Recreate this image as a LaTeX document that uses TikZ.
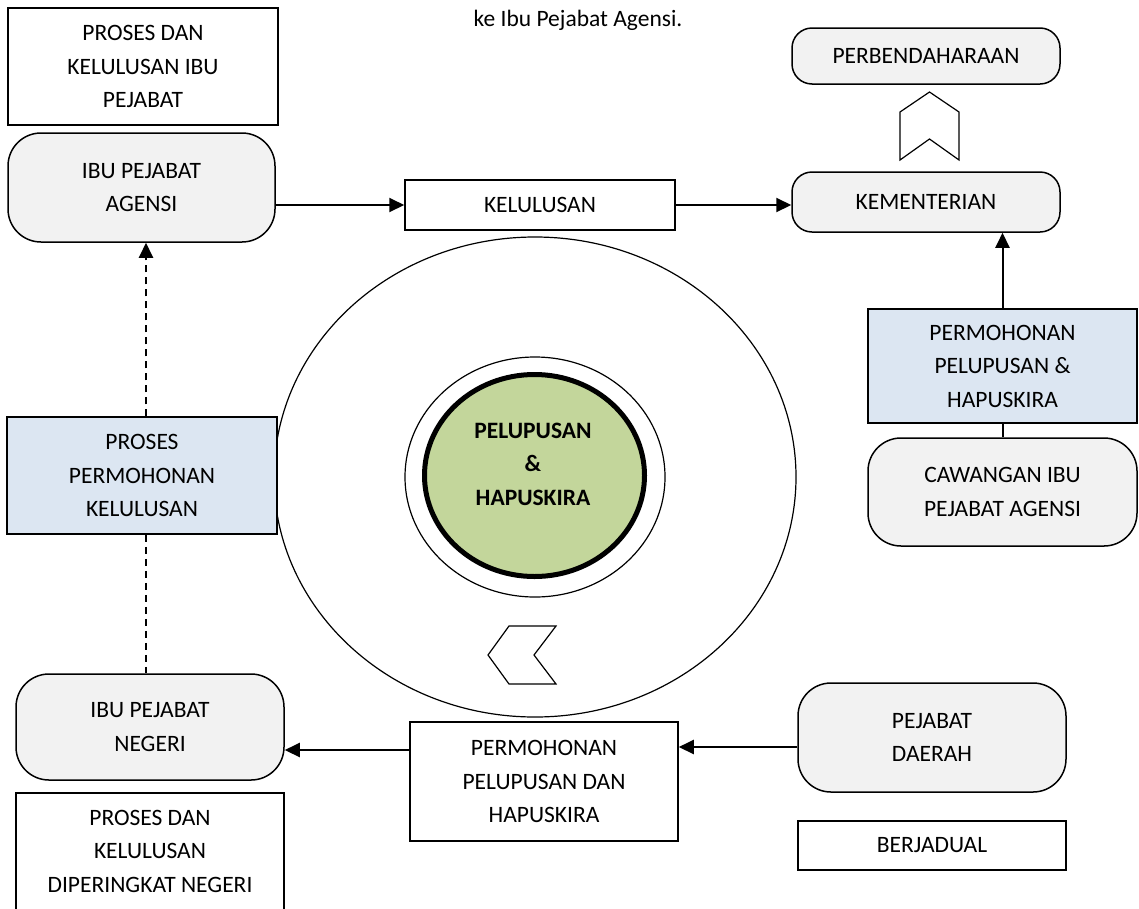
\documentclass[tikz,border=0pt]{standalone}
\usepackage{fontspec}
\setmainfont{Carlito}
\usetikzlibrary{arrows.meta,shapes.geometric}
\definecolor{boxgray}{HTML}{F2F2F2}
\definecolor{boxblue}{HTML}{DCE6F2}
\definecolor{coregreen}{HTML}{C3D69B}
\tikzset{
  txt/.style={font=\fontsize{23.5}{33.5}\selectfont, align=center, inner sep=0pt},
  plainbox/.style={txt, draw, line width=1.5pt, fill=white},
  bluebox/.style={txt, draw, line width=1.5pt, fill=boxblue},
  roundbox/.style={txt, draw, line width=1.5pt, fill=boxgray, rounded corners=33pt},
  roundsmall/.style={txt, draw, line width=1.5pt, fill=boxgray, rounded corners=20pt},
  arr/.style={line width=2pt, -{Triangle[length=15pt,width=14pt]}},
  dashline/.style={line width=2pt, dash pattern=on 7pt off 5pt},
  chev/.style={draw, line width=1.2pt, fill=white, line join=miter},
}
\begin{document}
\begin{tikzpicture}[x=1pt,y=-1pt]
\useasboundingbox (0,0) rectangle (1139,908);
\fill[white] (0,0) rectangle (1139,908);

% title text
\node[txt] (title) at (578,20) {ke Ibu Pejabat Agensi.};

% big circle and rings
\draw[line width=1.2pt] (535,477) ellipse [x radius=261, y radius=240];
\draw[line width=1.2pt] (535,477) ellipse [x radius=130, y radius=120];
\node[draw, line width=5pt, fill=coregreen, ellipse, minimum width=220pt, minimum height=202pt, inner sep=0pt] (core) at (534.5,475.5) {};
\node[txt, font=\fontsize{23.5}{33.5}\selectfont\bfseries] (coretext) at (533,464) {PELUPUSAN\\\&\\HAPUSKIRA};

% chevrons
\draw[chev] (556,626) -- (509,626) -- (488,655) -- (509,684) -- (556,684) -- (534,655) -- cycle;
\draw[chev] (900,160) -- (900,112) -- (929.5,92) -- (959,112) -- (959,160) -- (929.5,139) -- cycle;

% boxes
\node[plainbox, minimum width=270pt, minimum height=117pt] (a1) at (143,66.5) {PROSES DAN\\KELULUSAN IBU\\PEJABAT};
\node[roundbox, minimum width=267pt, minimum height=109pt] (a2) at (141.5,187.5) {IBU PEJABAT\\AGENSI};
\node[plainbox, minimum width=270pt, minimum height=50pt] (kel) at (540,205) {KELULUSAN};
\node[roundsmall, minimum width=268pt, minimum height=60pt] (kem) at (926,202) {KEMENTERIAN};
\node[roundsmall, minimum width=268pt, minimum height=56pt] (per) at (926,56) {PERBENDAHARAAN};
\node[bluebox, minimum width=269pt, minimum height=114pt] (pph) at (1002.5,366) {PERMOHONAN\\PELUPUSAN \&\\HAPUSKIRA};
\node[roundbox, minimum width=269pt, minimum height=108pt] (caw) at (1002.5,492) {CAWANGAN IBU\\PEJABAT AGENSI};
\node[bluebox, minimum width=270pt, minimum height=117pt] (ppk) at (142,475.5) {PROSES\\PERMOHONAN\\KELULUSAN};
\node[roundbox, minimum width=268pt, minimum height=106pt] (ipn) at (150,727) {IBU PEJABAT\\NEGERI};
\node[plainbox, minimum width=268pt, minimum height=124pt, anchor=north] (pn) at (150,792) {};
\node[txt] (pntext) at (150,851) {PROSES DAN\\KELULUSAN\\DIPERINGKAT NEGERI};
\node[plainbox, minimum width=268pt, minimum height=119pt] (pdh) at (544,781.5) {PERMOHONAN\\PELUPUSAN DAN\\HAPUSKIRA};
\node[roundbox, minimum width=268pt, minimum height=109pt] (pd) at (932,737.5) {PEJABAT\\DAERAH};
\node[plainbox, minimum width=268pt, minimum height=49pt] (ber) at (932,845.5) {BERJADUAL};

% connectors
\coordinate (r1) at (0,750);
\coordinate (r2) at (0,747);
\draw[arr] (a2.east |- kel) -- (kel.west);
\draw[arr] (kel.east) -- (kem.west |- kel.east);
\draw[arr] (pph.north) -- (pph.north |- kem.south);
\draw[line width=2pt] (pph.south) -- (caw.north);
\draw[dashline, -{Triangle[length=15pt,width=14pt]}] (ppk.north -| 146,0) -- (a2.south -| 146,0);
\draw[dashline] (ppk.south -| 146,0) -- (ipn.north -| 146,0);
\draw[arr] (pdh.west |- r1) -- (ipn.east |- r1);
\draw[arr] (pd.west |- r2) -- (pdh.east |- r2);
\end{tikzpicture}
\end{document}
